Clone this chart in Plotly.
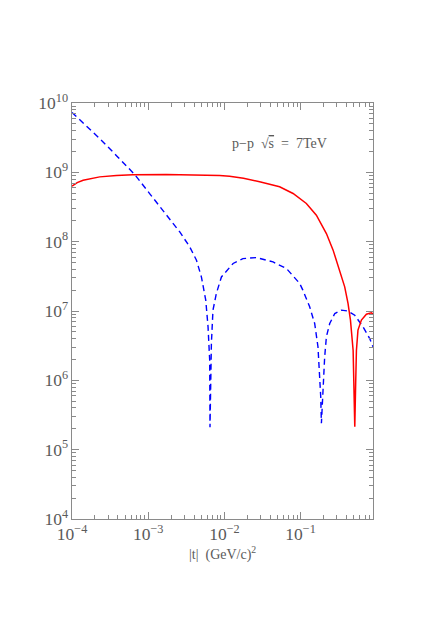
import plotly.graph_objects as go

# |t| in (GeV/c)^2
t_red = [1.0e-4, 1.17e-4, 1.40e-4, 1.78e-4, 2.31e-4, 3.83e-4, 6.3e-4, 1.73e-3,
         4.3e-3, 8.67e-3, 1.17e-2, 1.78e-2, 2.9e-2, 5.3e-2, 7.96e-2, 0.119,
         0.161, 0.218, 0.267, 0.326, 0.379, 0.419, 0.451, 0.489, 0.504, 0.514,
         0.528, 0.540, 0.566, 0.628, 0.730, 0.849, 0.89]
y_red = [6.3e8, 7.1e8, 7.7e8, 8.2e8, 8.6e8, 9.0e8, 9.2e8, 9.3e8,
         9.2e8, 9.0e8, 8.8e8, 8.2e8, 7.3e8, 6.2e8, 4.95e8, 3.55e8,
         2.41e8, 1.31e8, 7.55e7, 3.9e7, 2.23e7, 1.29e7, 7.4e6, 2.7e6, 9.1e5, 2.15e5,
         9.1e5, 2.7e6, 5.3e6, 7.4e6, 9.0e6, 9.4e6, 9.1e6]

t_blue = [1.0e-4, 1.51e-4, 2.31e-4, 3.98e-4, 6.65e-4, 1.05e-3, 1.56e-3, 2.61e-3,
          3.51e-3, 4.30e-3, 4.99e-3, 5.69e-3, 6.10e-3, 6.41e-3, 6.47e-3, 6.61e-3,
          6.75e-3, 7.08e-3, 7.85e-3, 9.14e-3, 1.30e-2, 1.75e-2, 2.63e-2, 4.35e-2,
          6.52e-2, 9.73e-2, 0.107, 0.1315, 0.153, 0.169, 0.178, 0.1837, 0.1875,
          0.197, 0.207, 0.218, 0.241, 0.281, 0.343, 0.419, 0.513, 0.659, 0.807,
          0.89]
y_blue = [7.3e9, 4.8e9, 3.07e9, 1.67e9, 9.3e8, 4.9e8, 2.84e8, 1.37e8,
          8.4e7, 5.4e7, 3.1e7, 1.44e7, 5.9e6, 1.95e6, 2.1e5, 6.6e5,
          3.44e6, 1.03e7, 1.8e7, 3.1e7, 4.85e7, 5.7e7, 5.9e7, 5.1e7,
          4.1e7, 2.5e7, 2.0e7, 1.15e7, 6.6e6, 3.05e6, 1.26e6, 5.8e5, 2.4e5,
          1.0e6, 2.2e6, 4.25e6, 6.6e6, 9.2e6, 1.03e7, 1.0e7, 8.7e6, 5.9e6, 4.0e6,
          3.05e6]

axis_grey = "#8a8a8a"
text_grey = "#5a5a5a"
font_family = "Liberation Serif"

fig = go.Figure()
fig.add_trace(go.Scatter(x=t_blue, y=y_blue, mode="lines",
                         line=dict(color="#0000ff", width=1.4, dash="6px,4px")))
fig.add_trace(go.Scatter(x=t_red, y=y_red, mode="lines",
                         line=dict(color="#ff0000", width=1.5)))

axis_common = dict(
    type="log",
    dtick=1,
    exponentformat="power",
    showgrid=False,
    zeroline=False,
    showline=True,
    linecolor=axis_grey,
    linewidth=1.2,
    mirror="allticks",
    ticks="inside",
    ticklen=7,
    tickcolor=axis_grey,
    tickwidth=1,
    minor=dict(ticks="inside", ticklen=4, tickcolor=axis_grey, tickwidth=1,
               dtick="D1", showgrid=False),
    tickfont=dict(family=font_family, size=14, color=text_grey),
)

fig.update_xaxes(**axis_common, range=[-4, -0.05])
fig.update_yaxes(**axis_common, range=[4, 10])

# axis title placed by hand, it sits close under the tick labels
fig.add_annotation(
    text="|t|  (GeV/c)<sup>2</sup>",
    xref="paper", yref="paper", x=0.5, y=-0.082,
    xanchor="center", yanchor="middle",
    showarrow=False,
    font=dict(family=font_family, size=14, color=text_grey),
)

fig.add_annotation(
    text="p\u2212p  \u221a<span style='text-decoration:overline'>s</span>  =  7TeV",
    xref="paper", yref="paper", x=0.69, y=0.903,
    xanchor="center", yanchor="middle",
    showarrow=False,
    font=dict(family=font_family, size=14, color=text_grey),
)

# the page body keeps its 8px default margin, so the figure is 8px smaller
fig.update_layout(
    width=428,
    height=616,
    margin=dict(l=64, r=63, t=95, b=105),
    plot_bgcolor="white",
    paper_bgcolor="white",
    showlegend=False,
)

fig.write_html("out.html")
